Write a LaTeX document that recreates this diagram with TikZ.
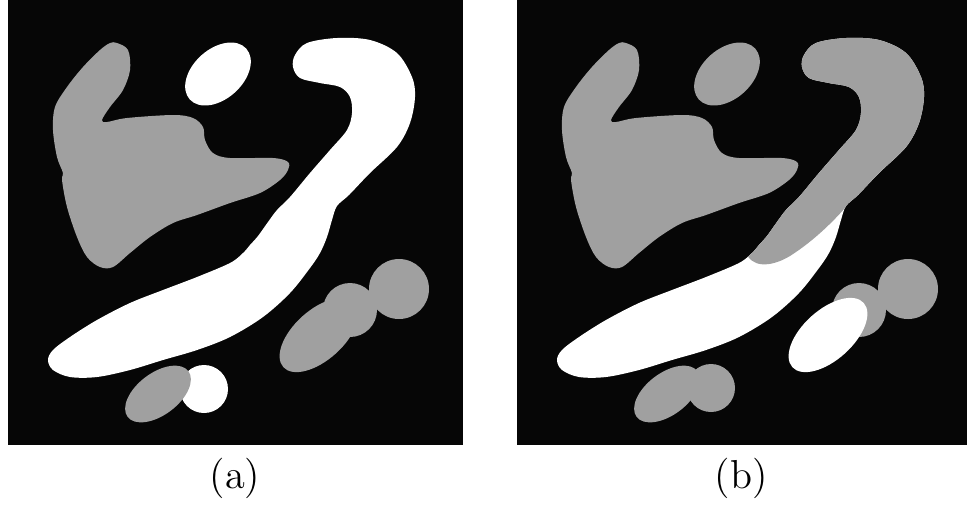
\documentclass[tikz,border=0pt]{standalone}
\definecolor{blobgray}{RGB}{160,160,160}
\definecolor{bgblack}{RGB}{6,6,6}
\newcommand\bandpath{plot[smooth cycle,tension=0.55] coordinates {
 (293,67) (300,78) (320,83) (340,87) (350,97) (352,113) (347,130) (330,150)
 (310,173) (290,197) (277,210) (268,222) (258,236) (250,245) (243,253) (230,263)
 (197,277) (163,290) (130,303) (97,320) (70,337) (53,350) (48,360) (53,370)
 (70,377) (97,377) (130,370) (163,360) (197,350) (230,337) (263,317) (290,293)
 (310,268) (320,253) (327,237) (332,220) (337,206) (349,195) (370,173) (397,147)
 (410,123) (415,97) (412,77) (397,53) (370,40) (337,38) (307,43) (295,55)}}
\newcommand\blobpath{plot[smooth cycle,tension=0.55] coordinates {
 (117,43) (128,50) (130,70) (123,90) (110,107) (102,120) (107,122) (127,118)
 (173,115) (193,118) (203,127) (205,140) (213,153) (230,158) (273,158) (288,162)
 (288,170) (280,180) (260,193) (230,203) (197,215) (173,223) (150,237) (130,253)
 (113,267) (100,267) (87,257) (77,237) (67,207) (62,180) (63,173) (57,157)
 (53,130) (55,107) (67,87) (83,67) (100,50) (110,43)}}
\begin{document}
\begin{tikzpicture}[x=0.01cm,y=-0.01cm,
  gr/.style={fill=blobgray},
  wh/.style={fill=white},
  panel/.style={fill=bgblack},
  caption/.style={font=\fontsize{11.5}{14}\selectfont, inner sep=0pt}]
\useasboundingbox (0,0) rectangle (969,505);
\fill[white] (0,0) rectangle (969,505);
% ---------- panel (a)
\fill[panel] (8,0) rectangle (463,445);
\fill[gr] \blobpath;
\fill[wh, rotate around={42:(218,74)}] (218,74) ellipse [x radius=38, y radius=25];
\fill[wh] \bandpath;
\fill[gr] (399,289) circle [radius=30];
\fill[gr] (350,310) circle [radius=27];
\fill[gr, rotate around={42:(319,335)}] (319,335) ellipse [x radius=48, y radius=25];
\fill[wh] (204,389) circle [radius=24];
\fill[gr, rotate around={37:(158,394)}] (158,394) ellipse [x radius=38, y radius=21];
\node[caption] (capa) at (235,478) {(a)};
% ---------- panel (b)
\fill[panel] (517,0) rectangle (967,445);
\begin{scope}[shift={(509,0)}]
\fill[gr] \blobpath;
\fill[gr, rotate around={42:(218,74)}] (218,74) ellipse [x radius=38, y radius=25];
\fill[wh] \bandpath;
\begin{scope}
\clip \bandpath;
\fill[gr] (190,0) -- (190,245) -- (236,250) .. controls (241,268) and (261,268) .. (281,256)
  .. controls (306,240) and (326,220) .. (343,200) -- (400,195) -- (500,0) -- cycle;
\end{scope}
\fill[gr] (399,289) circle [radius=30];
\fill[gr] (350,310) circle [radius=27];
\fill[wh, rotate around={42:(319,335)}] (319,335) ellipse [x radius=48, y radius=25];
\fill[gr] (202,388) circle [radius=24];
\fill[gr, rotate around={37:(158,394)}] (158,394) ellipse [x radius=38, y radius=21];
\end{scope}
\node[caption] (capb) at (741,478) {(b)};
\end{tikzpicture}
\end{document}
